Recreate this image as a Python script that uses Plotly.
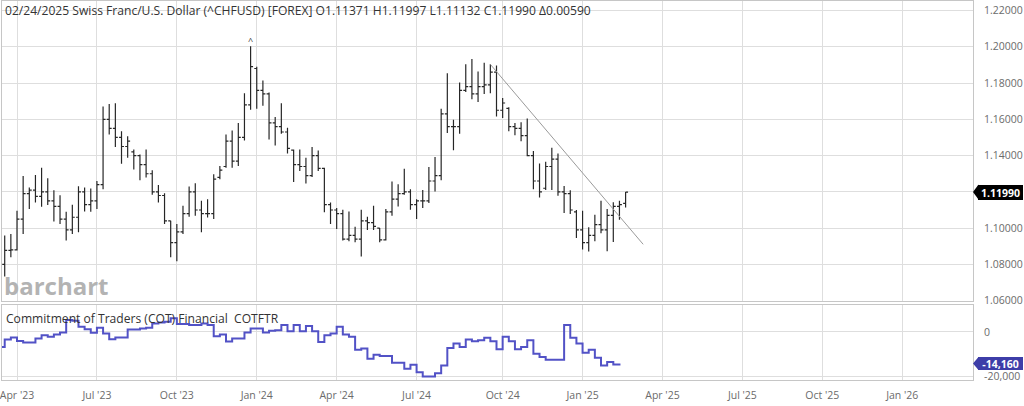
import plotly.graph_objects as go
import pandas as pd

# ---------------- data ----------------
week_dates = pd.date_range("2023-03-20", periods=102, freq="7D")

opens = [1.0800, 1.0878, 1.0880, 1.1050, 1.1190, 1.1210, 1.1175, 1.1200, 1.1150, 1.1120,
         1.1050, 1.0990, 1.1060, 1.1200, 1.1130, 1.1150, 1.1240, 1.1600, 1.1550, 1.1500,
         1.1450, 1.1420, 1.1400, 1.1350, 1.1300, 1.1200, 1.1180, 1.1040, 1.0920, 1.0980,
         1.1080, 1.1200, 1.1100, 1.1080, 1.1080, 1.1280, 1.1340, 1.1480, 1.1370, 1.1500,
         1.1680, 1.1880, 1.1760, 1.1740, 1.1580, 1.1560, 1.1530, 1.1430, 1.1350, 1.1340,
         1.1290, 1.1400, 1.1330, 1.1130, 1.1100, 1.1080, 1.0940, 1.0960, 1.0940, 1.1040,
         1.1030, 1.1000, 1.0935, 1.1090, 1.1160, 1.1190, 1.1200, 1.1130, 1.1150, 1.1150,
         1.1260, 1.1290, 1.1630, 1.1560, 1.1560, 1.1760, 1.1780, 1.1740, 1.1780, 1.1790,
         1.1860, 1.1650, 1.1660, 1.1560, 1.1550, 1.1510, 1.1400, 1.1260, 1.1220, 1.1340,
         1.1380, 1.1200, 1.1190, 1.1090, 1.0990, 1.0920, 1.0960, 1.1020, 1.0990, 1.1070,
         1.1120, 1.11371]

highs = [1.0959, 1.0968, 1.1096, 1.1288, 1.1224, 1.1293, 1.1333, 1.1275, 1.1209, 1.1182,
         1.1090, 1.1129, 1.1231, 1.1224, 1.1218, 1.1260, 1.1671, 1.1684, 1.1689, 1.1534,
         1.1507, 1.1434, 1.1406, 1.1434, 1.1319, 1.1238, 1.1193, 1.1041, 1.1023, 1.1123,
         1.1229, 1.1248, 1.1151, 1.1160, 1.1297, 1.1342, 1.1516, 1.1538, 1.1580, 1.1744,
         1.2003, 1.1890, 1.1814, 1.1748, 1.1613, 1.1689, 1.1553, 1.1434, 1.1434, 1.1388,
         1.1448, 1.1428, 1.1333, 1.1142, 1.1111, 1.1101, 1.1092, 1.1008, 1.1101, 1.1063,
         1.1123, 1.1001, 1.1105, 1.1257, 1.1242, 1.1328, 1.1215, 1.1160, 1.1211, 1.1337,
         1.1392, 1.1658, 1.1854, 1.1598, 1.1803, 1.1903, 1.1932, 1.1863, 1.1912, 1.1903,
         1.1896, 1.1717, 1.1666, 1.1580, 1.1584, 1.1604, 1.1425, 1.1357, 1.1366, 1.1443,
         1.1412, 1.1233, 1.1209, 1.1100, 1.1096, 1.1005, 1.1074, 1.1151, 1.1105, 1.1143,
         1.1151, 1.11997]

lows = [1.0734, 1.0840, 1.0877, 1.0968, 1.1105, 1.1142, 1.1118, 1.1127, 1.1036, 1.1023,
        1.0932, 1.0968, 1.0977, 1.1092, 1.1090, 1.1105, 1.1215, 1.1516, 1.1447, 1.1355,
        1.1388, 1.1324, 1.1264, 1.1279, 1.1184, 1.1142, 1.1023, 1.0840, 1.0818, 1.0968,
        1.1063, 1.1069, 1.0977, 1.1059, 1.1050, 1.1269, 1.1333, 1.1333, 1.1342, 1.1483,
        1.1653, 1.1658, 1.1675, 1.1489, 1.1456, 1.1520, 1.1412, 1.1255, 1.1315, 1.1246,
        1.1282, 1.1315, 1.1087, 1.1023, 1.0995, 1.0932, 1.0928, 1.0922, 1.0844, 1.0990,
        1.0990, 1.0922, 1.0932, 1.1069, 1.1120, 1.1184, 1.1101, 1.1050, 1.1111, 1.1138,
        1.1202, 1.1264, 1.1525, 1.1430, 1.1521, 1.1750, 1.1711, 1.1695, 1.1739, 1.1744,
        1.1616, 1.1607, 1.1534, 1.1512, 1.1479, 1.1397, 1.1215, 1.1169, 1.1211, 1.1211,
        1.1178, 1.1083, 1.1078, 1.0946, 1.0882, 1.0871, 1.0928, 1.0972, 1.0873, 1.0924,
        1.1047, 1.11132]

closes = [1.0878, 1.0880, 1.1050, 1.1190, 1.1210, 1.1175, 1.1200, 1.1150, 1.1120, 1.1050,
          1.0990, 1.1060, 1.1200, 1.1130, 1.1150, 1.1240, 1.1600, 1.1550, 1.1500, 1.1450,
          1.1480, 1.1400, 1.1350, 1.1300, 1.1200, 1.1180, 1.1040, 1.0920, 1.0980, 1.1080,
          1.1200, 1.1100, 1.1080, 1.1080, 1.1270, 1.1320, 1.1480, 1.1370, 1.1500, 1.1680,
          1.1890, 1.1760, 1.1740, 1.1580, 1.1560, 1.1530, 1.1440, 1.1350, 1.1340, 1.1290,
          1.1400, 1.1330, 1.1130, 1.1100, 1.1080, 1.0940, 1.0960, 1.0940, 1.1040, 1.1030,
          1.1010, 1.0935, 1.1090, 1.1160, 1.1190, 1.1200, 1.1130, 1.1150, 1.1150, 1.1260,
          1.1290, 1.1630, 1.1560, 1.1560, 1.1760, 1.1780, 1.1740, 1.1780, 1.1790, 1.1860,
          1.1650, 1.1690, 1.1560, 1.1550, 1.1510, 1.1400, 1.1260, 1.1200, 1.1340, 1.1380,
          1.1200, 1.1190, 1.1100, 1.0990, 1.0920, 1.0960, 1.1020, 1.0990, 1.1070, 1.1120,
          1.1130, 1.11990]

cot_dates = pd.date_range("2023-03-13", periods=102, freq="7D")
cot_net = [-6770, -3460, -2560, -4060, -4810, -4810, -3010, -1500, -2260, -1200,
           -300, 5260, 4960, 2260, 1200, -450, 1800, -750, -3310, -2560,
           -2560, 1050, 1050, 1500, 1800, 3760, 4210, 4510, 6020, 3460,
           3460, 3010, 3010, 3760, 3010, -1960, -1200, -4360, -3010, -3010,
           -300, 1500, 1500, -300, 450, 750, 3010, 300, 3010, 300,
           2560, 300, -4510, -1500, -750, 2260, -1200, -2260, -7970, -7520,
           -12030, -10230, -10830, -10830, -13840, -13840, -16540, -14740, -18050, -20000,
           -20000, -18500, -15040, -7220, -5260, -6770, -3460, -4210, -3760, -2710,
           -4210, -7820, -2260, -4210, -7820, -6770, -3760, -9780, -11280, -12480,
           -12480, -12480, 3010, -2710, -5260, -9320, -7970, -11580, -15040, -13540,
           -14590, -14160]

trend_dates = ["2024-09-23", "2025-03-16"]
trend_prices = [1.1903, 1.0911]

# period high marker (week of the 1.2003 high)
peak_date = ["2023-12-25"]
peak_price = [1.2003]

tick_dates = ["2023-04-03", "2023-07-03", "2023-10-02", "2024-01-01", "2024-04-01",
              "2024-07-01", "2024-10-07", "2025-01-06", "2025-04-07", "2025-07-07",
              "2025-10-06", "2026-01-05"]
tick_labels = ["Apr '23", "Jul '23", "Oct '23", "Jan '24", "Apr '24", "Jul '24",
               "Oct '24", "Jan '25", "Apr '25", "Jul '25", "Oct '25", "Jan '26"]
price_ticks = [1.06, 1.08, 1.10, 1.12, 1.14, 1.16, 1.18, 1.20, 1.22]
# the 1.12000 label sits under the last-price badge in the reference
price_tick_labels = ["1.06000", "1.08000", "1.10000", "", "1.14000", "1.16000",
                     "1.18000", "1.20000", "1.22000"]
cot_ticks = [0, -20000]
cot_tick_labels = ["0", "-20,000"]

last_price = 1.11990
last_price_label = "1.11990"
last_cot = -14160
last_cot_label = "-14,160"

title_text = ("02/24/2025 Swiss Franc/U.S. Dollar (^CHFUSD) [FOREX] "
              "O1.11371 H1.11997 L1.11132 C1.11990 \u03940.00590")
cot_title = "Commitment of Traders (COT) Financial&nbsp;&nbsp;COTFTR"

# ---------------- style ----------------
FONT = "Open Sans, Noto Sans, sans-serif"
GRID = "#dedede"
BORDER = "#c6c6c6"
TICKC = "#6b6b6b"
COT_LINE = "#5252c6"
COT_BADGE = "#3d3da8"
X_RANGE = ["2023-03-16 22:00", "2026-03-26 14:00"]
P_RANGE = [1.05973, 1.22522]
C_RANGE = [-21560, 12140]

fig = go.Figure()

fig.add_trace(go.Ohlc(
    x=week_dates, open=opens, high=highs, low=lows, close=closes,
    xaxis="x", yaxis="y", tickwidth=0.4,
    increasing=dict(line=dict(color="#262626", width=1.2)),
    decreasing=dict(line=dict(color="#262626", width=1.2)),
    hoverinfo="skip", showlegend=False,
))

fig.add_trace(go.Scatter(
    x=trend_dates, y=trend_prices, mode="lines", xaxis="x", yaxis="y",
    line=dict(color="#9a9a9a", width=1), hoverinfo="skip", showlegend=False,
))

fig.add_trace(go.Scatter(
    x=peak_date, y=peak_price, mode="text", text=["^"], textposition="top center",
    textfont=dict(size=9, color="#333333", family=FONT), xaxis="x", yaxis="y",
    hoverinfo="skip", showlegend=False, cliponaxis=False,
))

fig.add_trace(go.Scatter(
    x=cot_dates, y=cot_net, mode="lines", line_shape="hv", xaxis="x2", yaxis="y2",
    line=dict(color=COT_LINE, width=2), hoverinfo="skip", showlegend=False,
))

common_x = dict(
    type="date", range=X_RANGE, tickvals=tick_dates, ticktext=tick_labels,
    showgrid=True, gridcolor=GRID, gridwidth=1, zeroline=False,
    showline=True, mirror=True, linecolor=BORDER, linewidth=1, ticks="",
    rangeslider=dict(visible=False), fixedrange=True,
)

fig.update_layout(
    width=1024, height=406,
    margin=dict(l=0, r=51, t=0, b=26),
    paper_bgcolor="white", plot_bgcolor="white",
    font=dict(family=FONT, color="#333333"),
    hovermode=False, showlegend=False,
    xaxis=dict(domain=[0, 1], anchor="y", showticklabels=False, **common_x),
    xaxis2=dict(domain=[0, 1], anchor="y2", matches="x", showticklabels=True,
                ticklabeloverflow="allow", ticklabelstandoff=5,
                tickfont=dict(size=10.5, color=TICKC), **common_x),
    yaxis=dict(domain=[0.2079, 1], anchor="x", side="right", range=P_RANGE,
               tickvals=price_ticks, ticktext=price_tick_labels,
               tickfont=dict(size=10.5, color=TICKC), ticklabelstandoff=8,
               showgrid=True, gridcolor=GRID, zeroline=False,
               showline=True, mirror=True, linecolor=BORDER, ticks=""),
    yaxis2=dict(domain=[0, 0.1987], anchor="x2", side="right", range=C_RANGE,
                tickvals=cot_ticks, ticktext=cot_tick_labels,
                tickfont=dict(size=10.5, color=TICKC), ticklabelstandoff=8,
                showgrid=True, gridcolor=GRID, zeroline=False,
                showline=True, mirror=True, linecolor=BORDER, ticks=""),
)

annotations = [
    dict(text=title_text, xref="paper", yref="paper", x=0, y=1, xanchor="left",
         yanchor="top", xshift=1, yshift=1, showarrow=False,
         font=dict(size=12.1, color="#333333", family=FONT)),
    dict(text=cot_title, xref="paper", yref="paper", x=0, y=0.1987, xanchor="left",
         yanchor="top", xshift=2, yshift=-3, showarrow=False,
         font=dict(size=12.1, color="#333333", family=FONT)),
    dict(text="<b>barchart</b>", xref="paper", yref="paper", x=0, y=0.2079,
         xanchor="left", yanchor="bottom", xshift=0, yshift=-3, showarrow=False,
         font=dict(size=24, color="#b3b3b3", family=FONT)),
    dict(text="<b>" + last_price_label + "</b>", xref="paper", yref="y", x=1,
         y=last_price, xanchor="left", yanchor="middle", xshift=5, showarrow=False,
         bgcolor="black", borderpad=2, borderwidth=0, width=41, height=11,
         font=dict(size=10.5, color="white", family=FONT)),
    dict(text="<b>" + last_cot_label + "</b>", xref="paper", yref="y2", x=1,
         y=last_cot, xanchor="left", yanchor="middle", xshift=5, showarrow=False,
         bgcolor=COT_BADGE, borderpad=1, borderwidth=0, width=43, height=11,
         font=dict(size=10.5, color="white", family=FONT)),
]
fig.update_layout(annotations=annotations)

shapes = [
    dict(type="path", xref="paper", yref="y", xsizemode="pixel", ysizemode="pixel",
         xanchor=1, yanchor=last_price, path="M0,0 L5.5,7.5 L5.5,-7.5 Z",
         fillcolor="black", line=dict(width=0), layer="above"),
    dict(type="path", xref="paper", yref="y2", xsizemode="pixel", ysizemode="pixel",
         xanchor=1, yanchor=last_cot, path="M0,0 L5.5,6.5 L5.5,-6.5 Z",
         fillcolor=COT_BADGE, line=dict(width=0), layer="above"),
]
fig.update_layout(shapes=shapes)

fig.write_html("out.html")
